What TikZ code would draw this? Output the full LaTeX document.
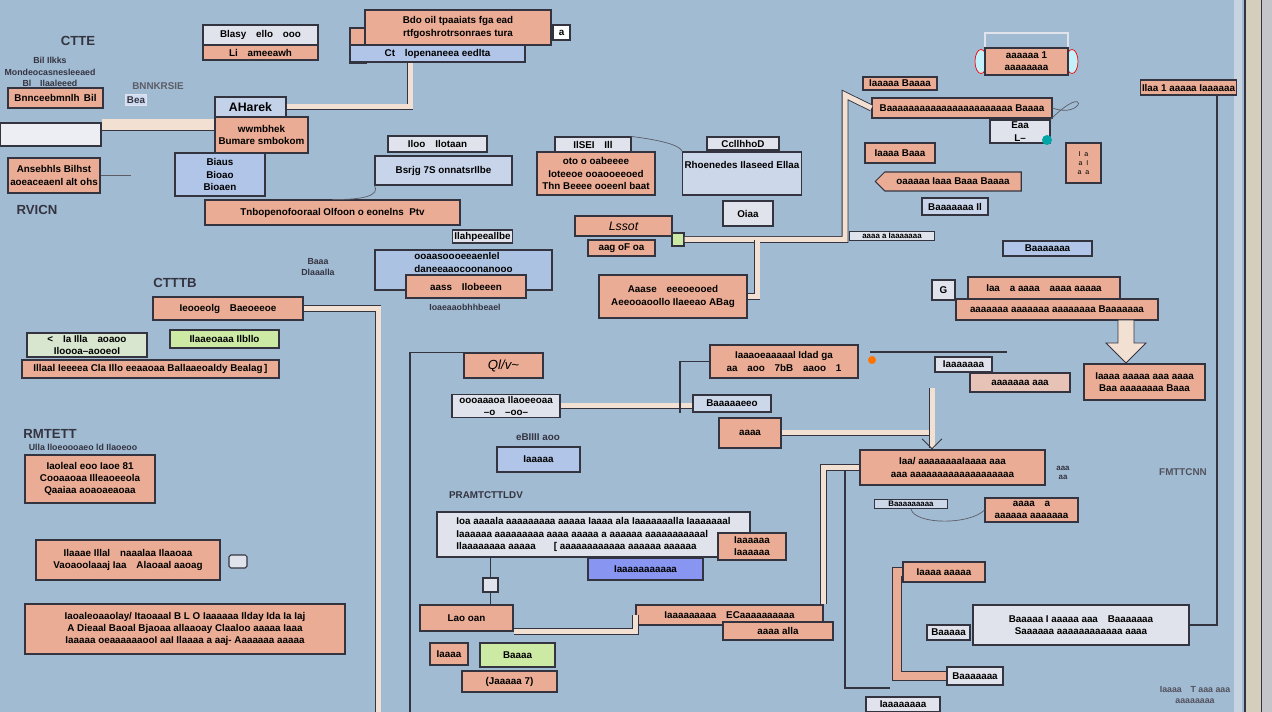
\documentclass[tikz,border=0pt]{standalone}
\usepackage{fontspec}
\setmainfont{Liberation Sans}
\usetikzlibrary{shapes.symbols,arrows.meta}

\definecolor{bgblue}{RGB}{161,187,211}
\definecolor{salmon}{RGB}{234,172,148}
\definecolor{paleg}{RGB}{224,227,235}
\definecolor{paleb}{RGB}{176,197,232}
\definecolor{palegreen}{RGB}{204,234,164}
\definecolor{boxline}{RGB}{52,52,64}
\definecolor{pipefill}{RGB}{242,224,210}
\definecolor{panel}{RGB}{214,206,188}

\tikzset{
  wh/.style 2 args={minimum width=#1*0.02cm, minimum height=#2*0.02cm},
  box/.style={draw=boxline, line width=0.6pt, inner sep=1pt, align=center,
              font=\fontsize{5.6}{7}\selectfont\bfseries},
  salbox/.style={box, fill=salmon},
  greybox/.style={box, fill=paleg},
  bluebox/.style={box, fill=paleb},
  greenbox/.style={box, fill=palegreen},
  lbl/.style={inner sep=0pt, align=center, text=boxline,
              font=\fontsize{5.6}{7}\selectfont\bfseries},
  biglbl/.style={lbl, font=\fontsize{7.5}{8}\selectfont\bfseries},
  pipe/.style={draw=boxline, double=pipefill, double distance=0.1cm, line width=0.5pt},
  fatpipe/.style={pipe, double distance=0.22cm},
  salpipe/.style={pipe, double=salmon, double distance=0.16cm},
  wire/.style={draw=boxline, line width=0.6pt},
  curl/.style={draw=boxline!80, line width=0.4pt},
}

\begin{document}
\begin{tikzpicture}[x=0.02cm, y=-0.02cm]
  \fill[bgblue] (0,0) rectangle (1272,712);
  \useasboundingbox (0,0) rectangle (1272,712);

  % right edge panel
  \fill[paleg!60!bgblue] (1234,0) rectangle (1242,712);
  \filldraw[fill=panel, draw=boxline, line width=1pt] (1245,-2) rectangle (1262,714);
  \fill[paleg!70!gray] (1262,0) rectangle (1272,712);

  % ---- top left ----
  \node[biglbl] (tCtte) at (78,41) {CTTE};
  \node[lbl, font=\fontsize{5}{6.5}\selectfont\bfseries] (tNote) at (50,72) {Bil Ilkks\\ Mondeocasnesleeaed\\ Bl\quad Ilaaleeed};
  \node[salbox, wh={95}{20}] (nAnc) at (55.5,98) {Bnnceebmnlh\, Bil};
  \node[lbl, text=boxline!80] (tBnn) at (158,86) {BNNKRSIE};
  \node[lbl, draw=paleg, fill=paleb!60, inner sep=1pt] (tBak) at (136,100) {Bea};
  \node[box, fill=paleg!60!white, wh={101}{23}] (nWhite) at (50.5,134.5) {};
  \node[salbox, wh={92}{35}] (nAns) at (54,175.5) {Ansebhls Bilhst\\ aoeaceaenl alt ohs};
  \node[biglbl] (tRvicn) at (37,210) {RVICN};

  \node[greybox, fill=paleb!60!paleg, wh={71}{20}, font=\fontsize{7}{8}\selectfont\bfseries] (nAwk) at (250.5,107) {AHarek};
  \node[salbox, wh={93}{36}] (nBum) at (261.5,135) {wwmbhek\\ Bumare smbokom};
  \node[greybox, wh={115}{20}] (nBla) at (260.5,35) {Blasy\quad ello\quad ooo};
  \node[salbox, wh={115}{15}] (nLam) at (260.5,52.5) {Li\quad ameeawh};

  \node[salbox, wh={16}{35}] (nTopc) at (358,45.5) {};
  \node[bluebox, wh={175}{17}] (nTopb) at (437.5,53.5) {Ct\quad lopenaneea eedlta};
  \node[salbox, wh={186}{35}] (nTop) at (458,27.5) {Bdo oil tpaaiats fga ead\\ rtfgoshrotrsonraes tura};
  \node[box, fill=white, wh={17}{15}] (nIcon) at (561.5,32.5) {a};

  \node[bluebox, wh={90}{43}] (nBia) at (220,174.5) {Biaus\\ Bioao\\ Bioaen};
  \node[salbox, wh={255}{25}] (nTnb) at (332.5,212.5) {Tnbopenofooraal\ Olfoon o eonelns\ \ Ptv};
  \node[greybox, wh={99}{16}] (nIlo) at (437.5,144) {Iloo\quad Ilotaan};
  \node[greybox, fill=paleb!50!paleg, wh={137}{29}] (nBsr) at (443.5,170.5) {Bsrjg 7S onnatsrIlbe};
  \node[greybox, wh={59}{13}] (nIlah) at (482.5,236.5) {Ilahpeeallbe};
  \node[bluebox, fill=paleb!70!bgblue, wh={177}{40}, align=left, text depth=0.3cm] (nDan) at (463.5,270) {ooaasoooeeaenlel\\ daneeaaocoonanooo};
  \node[salbox, wh={120}{23}] (nAass) at (466,286.5) {aass\quad Ilobeeen};
  \node[lbl, font=\fontsize{5}{6}\selectfont\bfseries] (tIoa) at (465,307) {Ioaeaaobhhbeael};

  % ---- top centre ----
  \node[greybox, wh={76}{15}] (nTab) at (593,144.5) {IlSEI\quad Ill};
  \node[salbox, wh={118}{43}] (nOto) at (596,173.5) {oto\ o\ oabeeee\\ Ioteeoe ooaooeeoed\\ Thn Beeee ooeenl baat};
  \node[greybox, fill=paleb!40!paleg, wh={110}{43}, text depth=0.35cm] (nRho) at (742,173.5) {Rhoenedes Ilaseed Ellaa};
  \node[greybox, wh={72}{13}] (nCcl) at (743,143.5) {CcllhhoD};
  \node[greybox, wh={50}{25}] (nOiaa) at (748,213.5) {Oiaa};
  \node[salbox, wh={97}{20}, font=\fontsize{7}{8}\selectfont\itshape] (nLssot) at (623.5,226) {Lssot};
  \node[salbox, wh={67}{16}] (nAag) at (621.5,248) {aag\ oF\ oa};
  \node[box, fill=palegreen, wh={12}{13}] (nPlug) at (678,239.5) {};
  \node[salbox, wh={148}{43}] (nAase) at (673,296.5) {Aaase\quad eeeoeooed\\ Aeeooaoollo Ilaeeao ABag};

  % ---- left middle ----
  \node[biglbl] (tCtt) at (175,283) {CTTTB};
  \node[lbl, font=\fontsize{5}{6}\selectfont\bfseries] (tBaa) at (318,267) {Baaa\\ Dlaaalla};
  \node[salbox, wh={150}{23}] (nIeo) at (228,308.5) {Ieooeolg\quad Baeoeeoe};
  \node[box, fill=palegreen!40!paleg, wh={120}{24}] (nLess) at (87,345) {\textless\quad Ia Illa\quad aoaoo\\ Iloooa--aooeoI};
  \node[greenbox, wh={109}{18}] (nIlb) at (224.5,339) {Ilaaeoaaa Ilbllo};
  \node[salbox, wh={257}{18}] (nIll) at (150.5,369) {Illaal\ Ieeeea\ Cla\ Illo\ eeaaoaa Ballaaeoaldy Bealag\,]};
  \node[biglbl] (tRmt) at (50,434) {RMTETT};
  \node[lbl, font=\fontsize{5}{6}\selectfont\bfseries] (tUll) at (83,447) {Ulla lloeoooaeo ld Ilaoeoo};
  \node[salbox, wh={130}{48}] (nIao) at (90,479) {Iaoleal eoo Iaoe 81\\ Cooaaoaa Illeaoeeola\\ Qaaiaa aoaoaeaoaa};
  \node[salbox, wh={184}{40}] (nIlae) at (128,560) {Ilaaae Illal\quad naaalaa Ilaaoaa\\ Vaoaoolaaaj Iaa\quad Alaoaal aaoag};
  \node[box, fill=paleg, wh={18}{13}, rounded corners=1pt] (nBadge) at (238,561.5) {};
  \node[salbox, wh={320}{50}] (nIde) at (185,629) {Iaoaleoaaolay/ Itaoaaal\ B\ L\ O Iaaaaaa Ilday Ida Ia Iaj\\ A Dieaal\ Baoal Bjaoaa allaaoay Claaloo aaaaa Iaaa\\ Iaaaaa oeaaaaaaooI aaI Ilaaaa\ a aaj-\ Aaaaaaa aaaaa};

  % ---- centre ----
  \node[salbox, wh={79}{25}, font=\fontsize{7.5}{8}\selectfont\itshape] (nQlv) at (503.5,365.5) {Ql/v\textasciitilde};
  \node[greybox, wh={108}{22}] (nOoo) at (506,406) {oooaaaoa Ilaoeeoaa\\ --o\quad --oo--};
  \node[salbox, wh={148}{33}] (nIda) at (784,361.5) {Iaaaoeaaaaal Idad ga\\ aa\quad aoo\quad 7bB\quad aaoo\quad 1};
  \node[greybox, fill=paleb!40!paleg, wh={78}{17}] (nBae) at (732,403.5) {Baaaaaeeo};
  \node[salbox, wh={62}{30}] (nAaaa) at (750,433) {aaaa};
  \node[lbl] (tSvb) at (538,437) {eBIIII aoo};
  \node[bluebox, wh={83}{25}] (nIaaa) at (538.5,459.5) {Iaaaaa};
  \node[lbl] (tPram) at (486,495) {PRAMTCTTLDV};
  \node[greybox, wh={313}{45}, align=left] (nBig) at (593.5,534.5) {Ioa aaaala aaaaaaaaa aaaaa Iaaaa ala Iaaaaaaalla Iaaaaaaal\\ Iaaaaaa aaaaaaaaa aaaa aaaaa a aaaaaa aaaaaaaaaaal\\ Ilaaaaaaaa aaaaa\quad\ \ \ [ aaaaaaaaaaaa aaaaaa aaaaaa};
  \node[salbox, wh={68}{27}] (nIaa) at (752,546.5) {Iaaaaaa\\ Iaaaaaa};
  \node[bluebox, fill=paleb!70!blue!90!white, wh={115}{22}] (nIaal) at (645.5,569) {Iaaaaaaaaaaa};
  \node[box, fill=paleg, wh={15}{14}] (nSmall) at (490.5,585) {};
  \node[salbox, wh={93}{26}] (nLao) at (466.5,618) {Lao\ oan};
  \node[salbox, wh={187}{20}] (nEca) at (729.5,615) {Iaaaaaaaaa\quad ECaaaaaaaaaa};
  \node[salbox, wh={110}{18}] (nAll) at (778,631) {aaaa\ alla};
  \node[salbox, wh={38}{22}] (nIa) at (449,654) {Iaaaa};
  \node[greenbox, wh={75}{24}] (nBaa) at (517.5,655) {Baaaa};
  \node[salbox, wh={95}{21}] (nJaa) at (509.5,681.5) {(Jaaaaa 7)};

  % ---- right ----
  \node[box, draw=paleg, wh={83}{30}] (nFrame) at (1026.5,48) {};
  \filldraw[draw=red, fill=paleb!60!cyan!40!white] (981,61.5) ellipse [x radius=0.12cm, y radius=0.24cm];
  \filldraw[draw=red, fill=paleb!60!cyan!40!white] (1072,61.5) ellipse [x radius=0.12cm, y radius=0.24cm];
  \node[salbox, wh={83}{27}] (nSaa) at (1026.5,61.5) {aaaaaa 1\\ aaaaaaaa};
  \node[salbox, wh={74}{13}] (nIaab) at (900,83.5) {Iaaaaa Baaaa};
  \node[salbox, wh={180}{20}] (nBaab) at (962,108) {Baaaaaaaaaaaaaaaaaaaaaaa Baaaa};
  \node[greybox, wh={60}{23}] (nEaa) at (1020,131.5) {Eaa\\ L--};
  \node[salbox, wh={35}{40}, font=\fontsize{4}{5}\selectfont] (nTiny) at (1083.5,163) {I\ \ a\\ a\ \ I\\ a\ \ a};
  \node[salbox, wh={70}{20}] (nIaac) at (900,153) {Iaaaa Baaa};
  \node[salbox, signal, signal to=west, wh={146}{19}] (nSig) at (953,181.5) {oaaaaa Iaaa Baaa Baaaa};
  \node[greybox, fill=paleb!50!paleg, wh={66}{17}] (nBaac) at (955,206.5) {Baaaaaaa Il};
  \node[greybox, wh={85}{8}, font=\fontsize{4.5}{5}\selectfont\bfseries] (nLine) at (892,236) {aaaa a Iaaaaaaa};
  \node[bluebox, wh={89}{15}] (nBaad) at (1047.5,248.5) {Baaaaaaa};
  \node[box, fill=paleg, wh={23}{20}] (nQm) at (943.5,290) {G};
  \node[salbox, wh={152}{22}] (nIaad) at (1044,288) {Iaa\quad a aaaa\quad aaaa aaaaa};
  \node[salbox, wh={202}{21}] (nAaab) at (1057,309.5) {aaaaaaa aaaaaaa aaaaaaaa Baaaaaaa};
  \node[salbox, wh={121}{36}] (nIaae) at (1144.5,382) {Iaaaa aaaaa aaa aaaa\\ Baa aaaaaaaa Baaa};
  \node[greybox, wh={57}{15}] (nIaaf) at (963.5,364.5) {Iaaaaaaa};
  \node[salbox, fill=salmon!60!paleg, wh={100}{19}] (nAaac) at (1020,382.5) {aaaaaaa aaa};
  \node[salbox, wh={185}{35}] (nIaag) at (952.5,467.5) {Iaa/ aaaaaaaaIaaaa aaa\\ aaa aaaaaaaaaaaaaaaaaaa};
  \node[greybox, fill=paleb!40!paleg, wh={73}{8}, font=\fontsize{4.5}{5}\selectfont\bfseries] (nAab) at (911,504) {Baaaaaaaaa};
  \node[salbox, wh={93}{24}] (nAaad) at (1031.5,510) {aaaa\quad a\\ aaaaaa aaaaaaa};
  \node[lbl, font=\fontsize{4.5}{5}\selectfont\bfseries] (tAaa) at (1063,473) {aaa\\ aa};
  \node[salbox, wh={95}{15}] (nIlaa) at (1188.5,87.5) {Ilaa 1 aaaaa Iaaaaaa};
  \node[greybox, wh={216}{40}] (nBaae) at (1081,625) {Baaaaa I aaaaa aaa\quad Baaaaaaa\\ Saaaaaa aaaaaaaaaaaa aaaa};
  \node[greybox, wh={43}{15}] (nBaaf) at (948.5,632.5) {Baaaaa};
  \node[salbox, wh={82}{20}] (nIaah) at (944,572) {Iaaaa aaaaa};
  \node[greybox, wh={56}{18}] (nBaag) at (975,676) {Baaaaaaa};
  \node[greybox, wh={74}{15}] (nIaai) at (903,704.5) {Iaaaaaaaa};
  \node[lbl, text=boxline!85] (tFmt) at (1183,472) {FMTTCNN};
  \node[lbl, text=boxline!85, font=\fontsize{5}{6}\selectfont\bfseries] (tTra) at (1195,695) {Iaaaa\quad T aaa aaa\\ aaaaaaaa};

  % markers
  \fill[teal!70!cyan] (1047,140) circle (0.1cm);
  \fill[orange!90!red] (872,360) circle (0.08cm);

  % connectors
  \coordinate (bot1) at (378,712);
  \coordinate (bot2) at (410,712);
  \coordinate (j0) at (932,388);
  \coordinate (j2) at (845,95);
  \coordinate (j3) at (757,240);
  \coordinate (j4) at (897,676);
  \coordinate (j7) at (680,413);
  \coordinate (j8) at (890,688);
  \coordinate (j9) at (845,470);
  \coordinate (k1) at (870,352);
  \coordinate (k2) at (1007,352);

  \draw[fatpipe] ([yshift=0.19cm]nWhite.east) -- ([yshift=0.19cm]nWhite.east -| nBum.west);
  \draw[pipe] (nAwk.east) -| ([xshift=-0.55cm]nTopb.south);
  \draw[pipe] (nIeo.east) -| (bot1);
  \draw[pipe] (nOoo.east) -- (nOoo.east -| nBae.west);
  \draw[pipe] (nAaaa.east) -| (j0);
  \draw[pipe, -{Straight Barb[length=0.2cm, width=0.4cm]}] (j0) -- (j0 |- nIaag.north);
  \draw[pipe] (nPlug.east) -| (j2) -- (nBaab.west);
  \draw[pipe] (j3) |- (nAase.east);
  \draw[pipe] (nLao.south east) -| (nEca.west);
  \draw[pipe] (nEca.north east) |- (nIaag.west);
  \draw[salpipe] (nIaah.west) -| (j4) -- (nBaag.west);

  \draw[wire] (nQlv.north west) -| (bot2);
  \draw[wire] (nIda.west) -| (j7);
  \draw[wire] ([xshift=0.57cm]nIlaa.south) |- (nBaae.east);
  \draw[wire] (j9) -- (j9 |- j8) -- (j8);
  \draw[wire] (k1) -- (k2);
  \draw[wire] (nSmall.north) -- (nSmall.north |- nBig.south);
  \draw[wire] (nSmall.south) -- (nSmall.south |- nLao.north);

  % fat arrow down
  \filldraw[fill=pipefill, draw=boxline, line width=0.5pt]
    (1118,320) -- (1134,320) -- (1134,343) -- (1146,343) -- (1126,363) -- (1106,343) -- (1118,343) -- cycle;

  % stray curls
  \draw[curl] (nEaa.north east) .. controls (1090,80) and (1085,120) .. (nBaab.east);
  \draw[curl] (nTab.north east) .. controls (660,140) and (680,145) .. (nRho.north west);
  \draw[curl] (nAab.south) .. controls (915,525) and (970,525) .. (nAaad.west);
  \draw[curl] (nAns.east) -- ++(0.6cm,0);
  \draw[curl] (nBsr.south west) .. controls (380,195) and (365,200) .. (nTnb.north);
\end{tikzpicture}
\end{document}
